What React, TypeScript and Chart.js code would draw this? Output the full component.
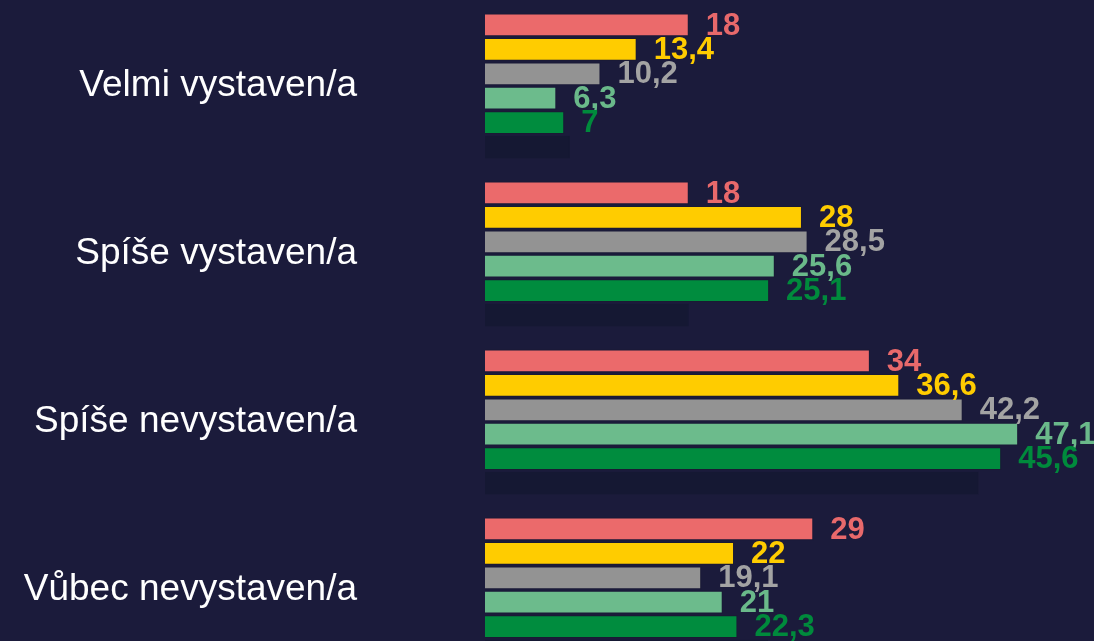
import React, { useEffect, useRef } from "react";
import { Chart, registerables } from "chart.js";

Chart.register(...registerables);

const categories = ["Velmi vystaven/a", "Spíše vystaven/a", "Spíše nevystaven/a", "Vůbec nevystaven/a"];
const seriesRed = [18, 18, 34, 29];
const seriesYellow = [13.4, 28, 36.6, 22];
const seriesGray = [10.2, 28.5, 42.2, 19.1];
const seriesLightGreen = [6.3, 25.6, 47.1, 21];
const seriesGreen = [7, 25.1, 45.6, 22.3];
const seriesDark = [7.5, 18, 43.6, 25];

const barColors = ["#EB6A6B", "#FFCC00", "#939393", "#6CBB8C", "#008C3E", "#151833"];
const labelColors = ["#E8696B", "#FFCC00", "#A3A3A3", "#6AB98A", "#008A3C", null];

const FONT = "'Liberation Sans', Arial, sans-serif";

const valueLabels = {
  id: "valueLabels",
  afterDatasetsDraw(chart: any) {
    const ctx = chart.ctx;
    ctx.save();
    ctx.font = `bold 31px ${FONT}`;
    ctx.textBaseline = "middle";
    ctx.textAlign = "left";
    chart.data.datasets.forEach((ds: any, di: number) => {
      const color = labelColors[di];
      if (!color) return;
      const meta = chart.getDatasetMeta(di);
      meta.data.forEach((bar: any, i: number) => {
        const v = ds.data[i];
        ctx.fillStyle = color;
        ctx.fillText(String(v).replace(".", ","), bar.x + 17, bar.y + 1);
      });
    });
    ctx.restore();
  },
};

export default function App() {
  const ref = useRef<HTMLCanvasElement>(null);
  useEffect(() => {
    document.body.style.margin = "0";
    document.body.style.overflow = "hidden";
    document.body.style.background = "#1B1B3B";
    const series = [seriesRed, seriesYellow, seriesGray, seriesLightGreen, seriesGreen, seriesDark];
    const chart = new Chart(ref.current!, {
      type: "bar",
      data: {
        labels: categories,
        datasets: series.map((d, i) => ({
          data: d,
          backgroundColor: barColors[i],
          borderColor: i === 5 ? barColors[i] : "rgba(25,25,50,0.7)",
          borderWidth: 1,
          categoryPercentage: 0.872,
          barPercentage: 0.93,
        })),
      },
      options: {
        indexAxis: "y",
        responsive: false,
        maintainAspectRatio: false,
        animation: false,
        layout: { padding: { top: 2, bottom: 6, left: 0, right: 0 } },
        plugins: { legend: { display: false }, tooltip: { enabled: false } },
        scales: {
          x: { display: false, min: 0, max: 53.8 },
          y: {
            grid: { display: false, drawTicks: false },
            border: { display: false },
            ticks: { color: "#FFFFFF", font: { family: FONT, size: 37 }, padding: 128 },
            afterFit: (s: any) => {
              s.width = 485;
              s.paddingTop = 0;
              s.paddingBottom = 0;
            },
          },
        },
      },
      plugins: [valueLabels],
    });
    return () => chart.destroy();
  }, []);
  return (
    <div style={{ position: "fixed", left: 0, top: 0, width: 1094, height: 641, overflow: "hidden", background: "#1B1B3B" }}>
      <canvas ref={ref} width={1094} height={680} style={{ display: "block" }} />
    </div>
  );
}
